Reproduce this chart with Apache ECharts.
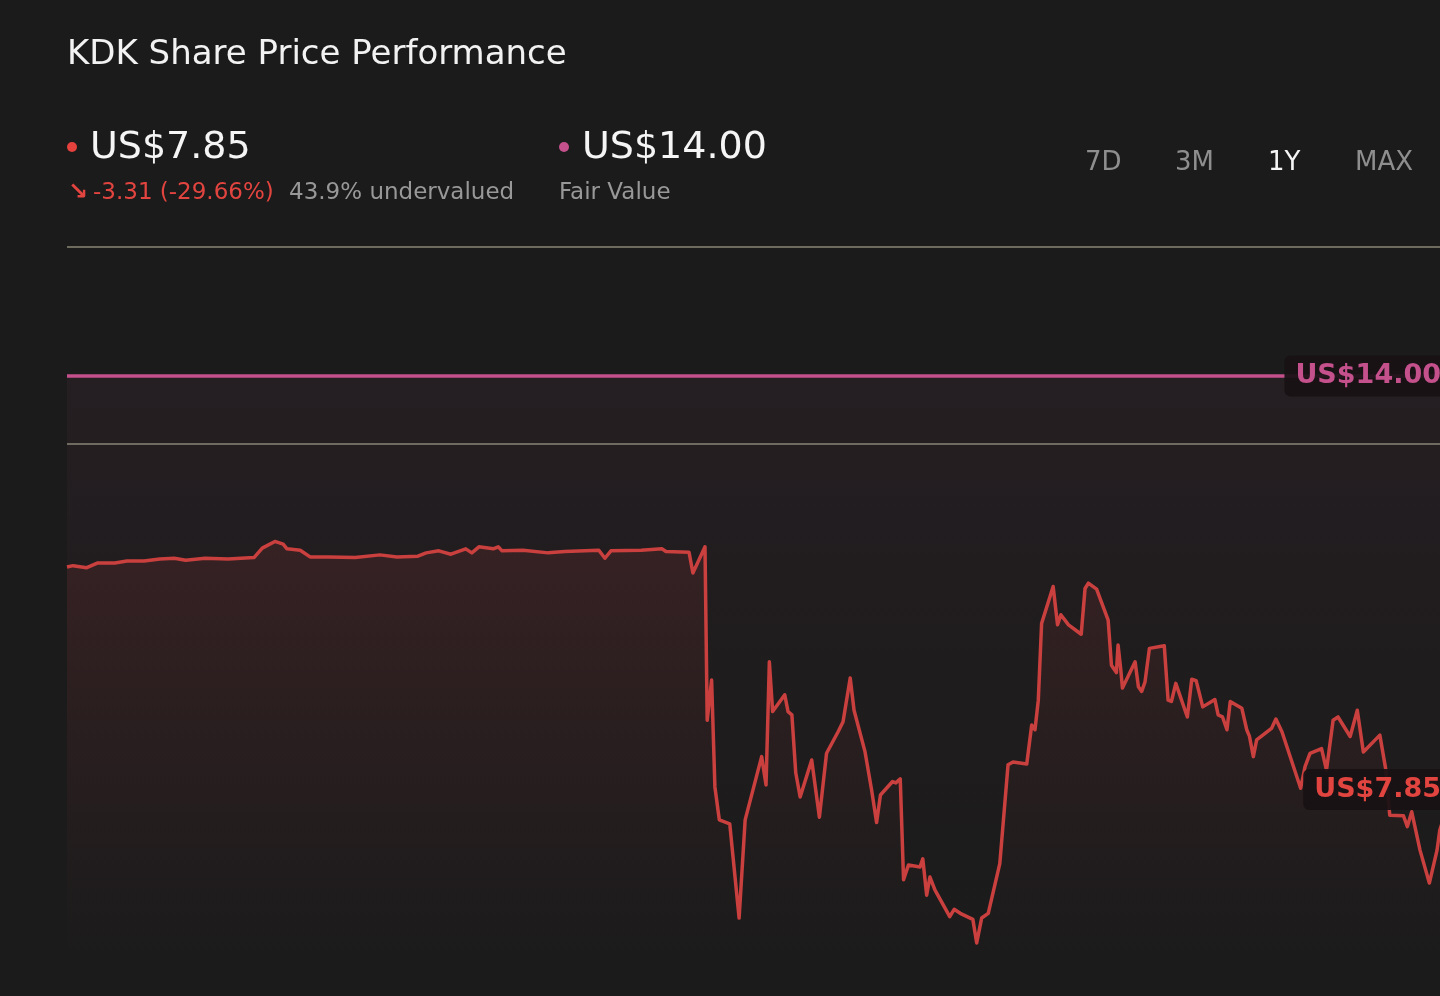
<!DOCTYPE html>
<html lang="en">
<head>
  <meta charset="UTF-8">
  <title>KDK Share Price Performance</title>
  <script src="https://cdn.jsdelivr.net/npm/echarts@6.0.0/dist/echarts.min.js"></script>
  <style>
    html,body{margin:0;padding:0;background:#1b1b1b;overflow:hidden;}
  </style>
</head>
<body>
  <!-- the chart runs a little past the right edge of the window, like the original crop -->
  <div id="main" style="width:1453px;height:996px;"></div>
  <script>
    // trading day index over the last year
    var days = [0,1.1,3.6,5.6,8.7,10.9,14,16.9,19.5,21.6,25.1,29.3,34,35.5,37.8,39.3,40,42.4,44.2,47.6,
      52.4,56.9,60,63.8,65.3,67.6,69.8,72.5,73.6,74.9,77.5,78.4,79.1,82.9,87.5,90.5,96.7,97.8,98.9,104.4,
      108.2,108.9,113.1,113.8,116,116.4,117.2,117.8,118.6,120.5,122.2,123.3,126.3,127.1,127.7,128.3,130.5,131.1,131.8,132.5,
      133.3,135.4,136.8,138.1,140.2,141.1,142.4,143.1,145.1,146.3,147.2,147.9,150.1,150.7,151.5,152.1,153,155.1,155.6,156.3,
      156.9,157.8,160.5,161.3,162.4,164.7,165.4,166.3,167.5,169.6,171.1,172,174.5,175.4,176,176.6,177.2,179.3,180.1,180.7,
      182.1,184.4,185.1,185.7,187.2,189.3,189.9,190.8,191.1,191.6,191.9,194.2,194.8,195.4,196,196.8,199.5,200.2,200.8,201.6,
      203.7,204.5,205.3,206.5,208.7,209.3,210.1,210.9,211.5,213.6,214.5,215,215.7,216.3,219,219.8,220.9,224.3,225.1,226,
      228.1,229,230.2,231.1,233.3,234.6,235.7,238.7,239.8,240.5,243,243.7,244.5,246,247.7,249.1,249.6,252];
    // share price, US$
    var prices = [11.16,11.18,11.15,11.22,11.22,11.25,11.25,11.28,11.29,11.26,11.29,11.28,11.30,11.44,11.54,11.50,11.43,11.41,11.31,11.31,
      11.30,11.34,11.31,11.32,11.37,11.40,11.35,11.43,11.37,11.46,11.43,11.46,11.40,11.41,11.37,11.39,11.41,11.29,11.40,11.41,
      11.43,11.39,11.38,11.07,11.46,8.88,9.48,7.89,7.40,7.34,5.94,7.40,8.34,7.92,9.75,9.01,9.26,9.01,8.96,8.10,
      7.74,8.29,7.44,8.39,8.71,8.86,9.51,9.03,8.41,7.84,7.36,7.77,7.97,7.95,8.01,6.51,6.73,6.70,6.82,6.28,
      6.55,6.36,5.96,6.07,6.01,5.92,5.57,5.94,6.01,6.75,8.22,8.26,8.23,8.81,8.74,9.18,10.32,10.87,10.30,10.45,
      10.30,10.16,10.84,10.92,10.83,10.37,9.70,9.59,10.00,9.63,9.36,9.75,9.38,9.31,9.45,9.95,9.99,9.18,9.16,9.43,
      8.93,9.49,9.47,9.08,9.19,8.96,8.93,8.74,9.16,9.06,8.74,8.64,8.34,8.59,8.76,8.90,8.71,7.87,8.19,8.39,
      8.46,8.14,8.88,8.93,8.64,9.03,8.41,8.66,8.14,7.47,7.46,7.30,7.52,6.95,6.46,6.95,7.25,7.85];
    var fairValue = 14.00;
    var refLevels = [15.92, 13.00];
    var ranges = ["7D","3M","1Y","MAX"];
    var activeRange = "1Y";

    var lastDay = days[days.length-1];
    var lastPrice = prices[prices.length-1];
    var startPrice = prices[0];
    var change = lastPrice - startPrice;
    var changePct = change / startPrice * 100;
    var undervalued = (1 - lastPrice / fairValue) * 100;

    var priceData = [];
    for (var i = 0; i < days.length; i++) {
      priceData.push([days[i], prices[i]]);
    }

    var FONT = "DejaVu Sans";
    var RED = "#c9403e";
    var RED_TXT = "#e2443f";
    var PINK = "#c4508c";
    var GREY = "#989898";

    var main = document.getElementById("main");
    var mychart = echarts.init(main);

    // header texts
    var graphics = [
      {type:"text", left:67, top:38, style:{text:"KDK Share Price Performance", fill:"#f2f2f2", font:"34px " + FONT}},
      {type:"circle", shape:{cx:72, cy:147, r:5}, style:{fill:"#e5423e"}},
      {type:"text", x:90, y:148, style:{text:"US$" + lastPrice.toFixed(2), fill:"#f5f5f5", font:"38px " + FONT, verticalAlign:"middle"}},
      {type:"text", x:68, y:193, style:{text:"\u2198", fill:RED_TXT, font:"bold 24px " + FONT, verticalAlign:"middle"}},
      {type:"text", x:93, y:193, style:{text:change.toFixed(2) + " (" + changePct.toFixed(2) + "%)", fill:RED_TXT, font:"23px " + FONT, verticalAlign:"middle"}},
      {type:"text", x:289, y:193, style:{text:undervalued.toFixed(1) + "% undervalued", fill:GREY, font:"23px " + FONT, verticalAlign:"middle"}},
      {type:"circle", shape:{cx:564, cy:147, r:5}, style:{fill:PINK}},
      {type:"text", x:582, y:148, style:{text:"US$" + fairValue.toFixed(2), fill:"#f5f5f5", font:"38px " + FONT, verticalAlign:"middle"}},
      {type:"text", x:559, y:193, style:{text:"Fair Value", fill:GREY, font:"23px " + FONT, verticalAlign:"middle"}}
    ];
    var btnX = [1085, 1175, 1268, 1355];
    for (var j = 0; j < ranges.length; j++) {
      graphics.push({type:"text", x:btnX[j], y:163, style:{
        text:ranges[j], fill:ranges[j] === activeRange ? "#f5f5f5" : "#8e8e8e", font:"26px " + FONT, verticalAlign:"middle"}});
    }

    function tagLabel(color) {
      return {
        show:true, position:"left", distance:2,
        color:color, fontFamily:FONT, fontWeight:"bold", fontSize:27, lineHeight:27,
        backgroundColor:"rgba(24,17,20,0.93)", borderRadius:6, padding:[7,10,7,11],
        formatter:function(p){ return "US$" + p.value.toFixed(2); }
      };
    }

    var option = {
      backgroundColor:"#1b1b1b",
      animation:false,
      graphic:graphics,
      grid:{left:67, right:0, top:241.5, bottom:14.75},
      xAxis:{type:"value", min:0, max:lastDay, show:false},
      yAxis:{type:"value", min:5, max:16, show:false},
      series:[
        {
          name:"Fair Value",
          type:"line",
          data:[[0, fairValue], [lastDay, fairValue]],
          symbol:"none",
          lineStyle:{color:PINK, width:3.5},
          areaStyle:{color:new echarts.graphic.LinearGradient(0,0,0,1,[
            {offset:0, color:"rgba(196,80,140,0.085)"},
            {offset:0.5, color:"rgba(196,80,140,0.03)"},
            {offset:1, color:"rgba(196,80,140,0)"}
          ])},
          markLine:{
            silent:true, symbol:"none", label:{show:false},
            lineStyle:{color:"#8a8676", width:1.5, type:"solid"},
            data:refLevels.map(function(v){ return {yAxis:v}; })
          },
          markPoint:{
            symbol:"circle", symbolSize:0,
            label:tagLabel(PINK),
            data:[{coord:[lastDay, fairValue], value:fairValue}]
          },
          z:2
        },
        {
          name:"Share Price",
          type:"line",
          data:priceData,
          symbol:"none",
          lineStyle:{color:RED, width:3.5, join:"round"},
          areaStyle:{color:new echarts.graphic.LinearGradient(0,0,0,1,[
            {offset:0, color:"rgba(200,64,62,0.18)"},
            {offset:0.45, color:"rgba(200,64,62,0.09)"},
            {offset:0.82, color:"rgba(200,64,62,0.02)"},
            {offset:1, color:"rgba(200,64,62,0)"}
          ])},
          markPoint:{
            symbol:"circle", symbolSize:0,
            label:tagLabel(RED_TXT),
            data:[{coord:[lastDay, lastPrice], value:lastPrice}]
          },
          z:3
        }
      ]
    };
    mychart.setOption(option);
  </script>
</body>
</html>
